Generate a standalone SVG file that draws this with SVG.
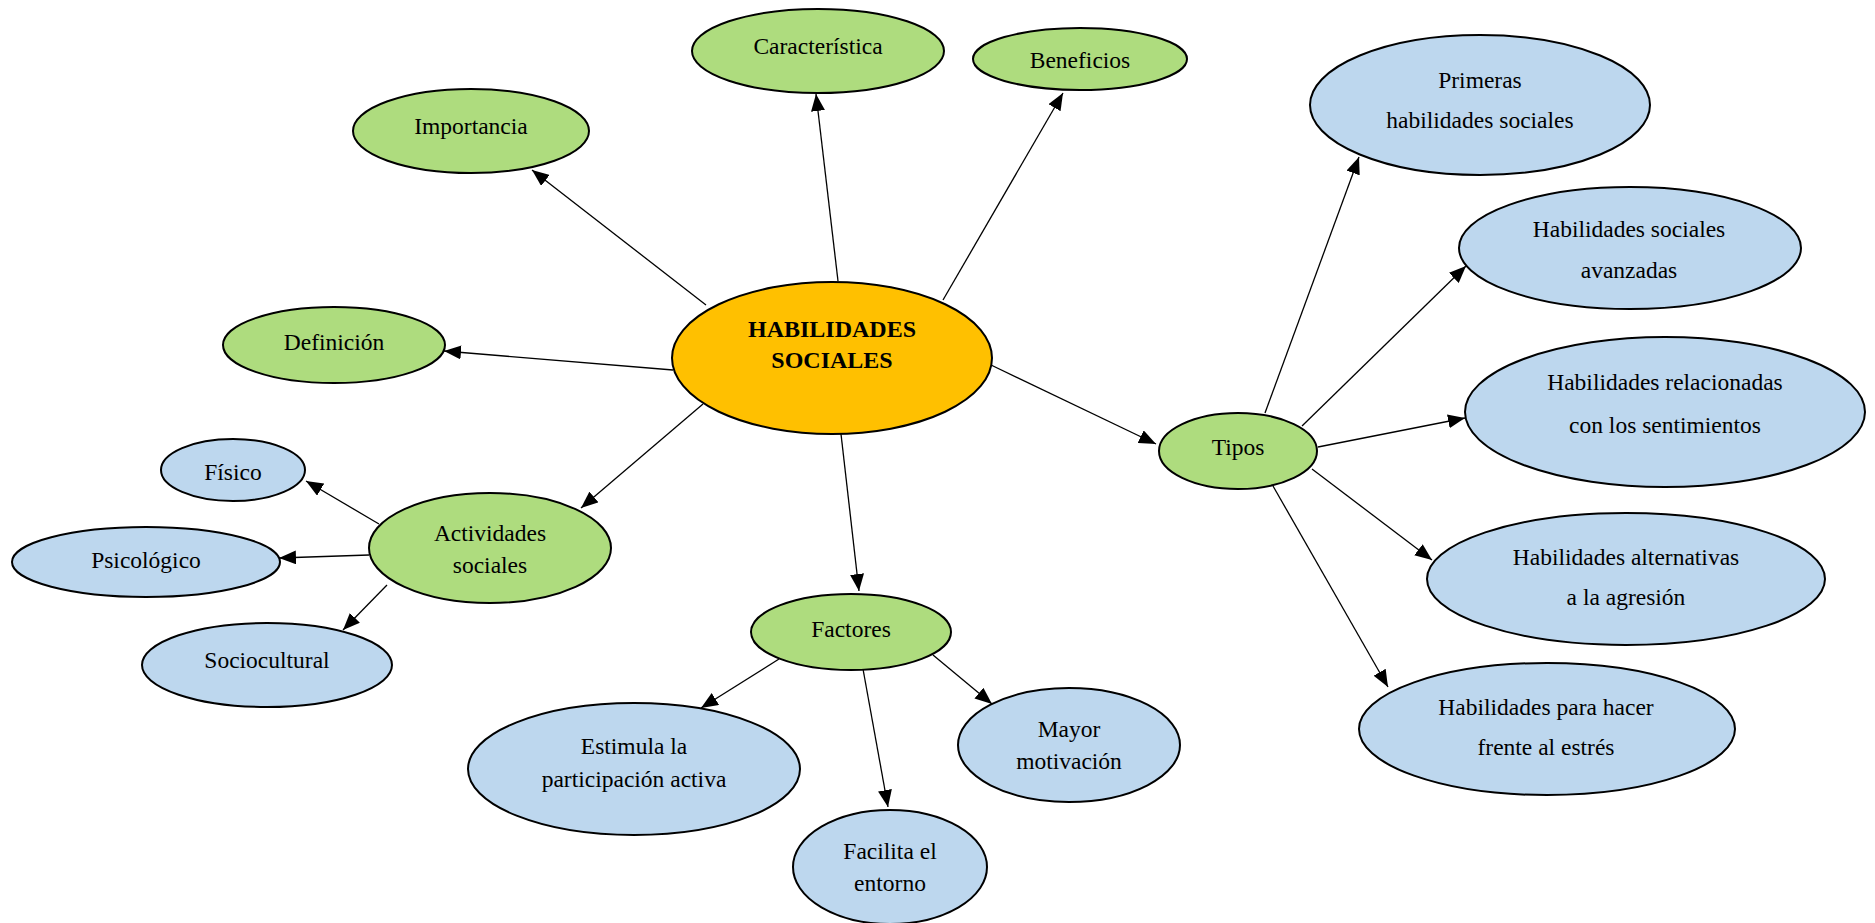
<svg xmlns="http://www.w3.org/2000/svg" width="1875" height="923" viewBox="0 0 1875 923">
<style>
.g{fill:#AEDC7E;stroke:#000;stroke-width:2}
.b{fill:#BDD7EE;stroke:#000;stroke-width:2}
.o{fill:#FFC000;stroke:#000;stroke-width:2}
text{font-family:"Liberation Serif","Times New Roman",serif;font-size:23.5px;fill:#000;text-anchor:middle}
.t{font-weight:bold;font-size:24px}
.c line{stroke:#000;stroke-width:1.3;marker-end:url(#ah)}
</style>
<defs>
<marker id="ah" markerUnits="userSpaceOnUse" markerWidth="18" markerHeight="14" refX="17" refY="7" orient="auto">
<path d="M0,0 L17,7 L0,14 z" fill="#000"/>
</marker>
</defs>
<rect width="1875" height="923" fill="#fff"/>
<g class="c" id="connectors">
<line x1="706" y1="305" x2="532" y2="170"/>
<line x1="838" y1="281" x2="816" y2="94"/>
<line x1="943" y1="300" x2="1063" y2="93"/>
<line x1="673" y1="370" x2="444" y2="351"/>
<line x1="703" y1="404" x2="581" y2="508"/>
<line x1="841" y1="434" x2="859" y2="591"/>
<line x1="991" y1="365" x2="1156" y2="444"/>
<line x1="379" y1="524" x2="306" y2="481"/>
<line x1="369" y1="555" x2="279" y2="558"/>
<line x1="387" y1="585" x2="343" y2="630"/>
<line x1="779" y1="659" x2="701" y2="708"/>
<line x1="863" y1="669" x2="888" y2="807"/>
<line x1="933" y1="655" x2="992" y2="704"/>
<line x1="1265" y1="413" x2="1359" y2="157"/>
<line x1="1302" y1="426" x2="1466" y2="266"/>
<line x1="1318" y1="447" x2="1465" y2="418"/>
<line x1="1312" y1="469" x2="1432" y2="560"/>
<line x1="1273" y1="486" x2="1388" y2="687"/>
</g>
<g id="n-caracteristica"><ellipse class="g" cx="818" cy="51" rx="126" ry="42"/><text x="818" y="54">Característica</text></g>
<g id="n-beneficios"><ellipse class="g" cx="1080" cy="59" rx="107" ry="31"/><text x="1080" y="68">Beneficios</text></g>
<g id="n-importancia"><ellipse class="g" cx="471" cy="131" rx="118" ry="42"/><text x="471" y="134">Importancia</text></g>
<g id="n-definicion"><ellipse class="g" cx="334" cy="345" rx="111" ry="38"/><text x="334" y="350">Definición</text></g>
<g id="n-habilidades"><ellipse class="o" cx="832" cy="358" rx="160" ry="76"/><text class="t" x="832" y="337">HABILIDADES</text><text class="t" x="832" y="368">SOCIALES</text></g>
<g id="n-tipos"><ellipse class="g" cx="1238" cy="451" rx="79" ry="38"/><text x="1238" y="455">Tipos</text></g>
<g id="n-actividades"><ellipse class="g" cx="490" cy="548" rx="121" ry="55"/><text x="490" y="541">Actividades</text><text x="490" y="573">sociales</text></g>
<g id="n-fisico"><ellipse class="b" cx="233" cy="470" rx="72" ry="31"/><text x="233" y="480">Físico</text></g>
<g id="n-psicologico"><ellipse class="b" cx="146" cy="562" rx="134" ry="35"/><text x="146" y="568">Psicológico</text></g>
<g id="n-sociocultural"><ellipse class="b" cx="267" cy="665" rx="125" ry="42"/><text x="267" y="668">Sociocultural</text></g>
<g id="n-factores"><ellipse class="g" cx="851" cy="632" rx="100" ry="38"/><text x="851" y="637">Factores</text></g>
<g id="n-estimula"><ellipse class="b" cx="634" cy="769" rx="166" ry="66"/><text x="634" y="754">Estimula la</text><text x="634" y="787">participación activa</text></g>
<g id="n-facilita"><ellipse class="b" cx="890" cy="867" rx="97" ry="57"/><text x="890" y="859">Facilita el</text><text x="890" y="891">entorno</text></g>
<g id="n-mayor"><ellipse class="b" cx="1069" cy="745" rx="111" ry="57"/><text x="1069" y="737">Mayor</text><text x="1069" y="769">motivación</text></g>
<g id="n-primeras"><ellipse class="b" cx="1480" cy="105" rx="170" ry="70"/><text x="1480" y="88">Primeras</text><text x="1480" y="128">habilidades sociales</text></g>
<g id="n-avanzadas"><ellipse class="b" cx="1630" cy="248" rx="171" ry="61"/><text x="1629" y="237">Habilidades sociales</text><text x="1629" y="278">avanzadas</text></g>
<g id="n-relacionadas"><ellipse class="b" cx="1665" cy="412" rx="200" ry="75"/><text x="1665" y="390">Habilidades relacionadas</text><text x="1665" y="433">con los sentimientos</text></g>
<g id="n-alternativas"><ellipse class="b" cx="1626" cy="579" rx="199" ry="66"/><text x="1626" y="565">Habilidades alternativas</text><text x="1626" y="605">a la agresión</text></g>
<g id="n-estres"><ellipse class="b" cx="1547" cy="729" rx="188" ry="66"/><text x="1546" y="715">Habilidades para hacer</text><text x="1546" y="755">frente al estrés</text></g>
</svg>
